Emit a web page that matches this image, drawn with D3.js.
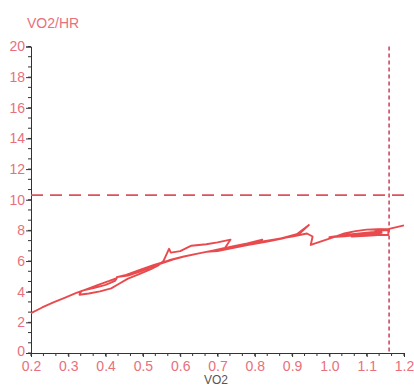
<!DOCTYPE html>
<html><head><meta charset="utf-8">
<script src="https://cdn.jsdelivr.net/npm/d3@7"></script>
<style>html,body{margin:0;padding:0;background:#fff;}svg{display:block;}</style>
</head><body><svg id="c" width="414" height="387"></svg>
<script>
const xTicks = [0.2,0.3,0.4,0.5,0.6,0.7,0.8,0.9,1.0,1.1,1.2];
const yTicks = [0,2,4,6,8,10,12,14,16,18,20];
const refVO2 = 1.16;
const refRatio = 10.3;
const vo2 = [0.200,0.230,0.260,0.290,0.320,0.350,0.380,0.410,0.430,
 0.425,0.400,0.370,0.335,0.330,0.355,0.385,0.415,0.435,0.460,0.490,0.520,0.540,0.555,0.570,
 0.575,0.600,0.630,0.670,0.700,0.735,0.720,
 0.690,0.650,0.610,0.570,0.530,0.490,0.455,0.430,0.460,0.490,0.520,0.550,0.580,0.620,0.660,0.700,0.740,0.780,0.820,0.790,0.750,0.710,0.670,0.700,0.740,0.780,0.830,0.870,0.910,0.945,
 0.920,0.880,0.850,0.800,0.760,0.800,0.850,0.900,0.940,0.955,
 0.950,0.980,1.010,1.040,1.070,1.100,1.130,1.160,1.120,1.080,1.040,1.000,1.040,1.080,1.110,1.140,1.100,1.060,1.100,1.130,1.158,1.158,1.110,1.160,1.200];
const ratio = [2.60,2.97,3.30,3.60,3.90,4.17,4.45,4.70,4.88,
 4.70,4.45,4.25,4.05,3.80,3.88,4.02,4.22,4.50,4.85,5.15,5.45,5.70,6.00,6.80,
 6.55,6.65,7.00,7.10,7.22,7.40,6.85,
 6.70,6.50,6.30,6.05,5.75,5.40,5.10,4.95,5.05,5.30,5.58,5.85,6.10,6.35,6.55,6.75,6.95,7.15,7.40,7.10,6.90,6.70,6.60,6.65,6.85,7.05,7.25,7.45,7.70,8.35,
 7.80,7.55,7.35,7.15,7.00,7.20,7.40,7.60,7.80,7.60,
 7.05,7.30,7.55,7.80,7.95,8.05,8.08,8.05,7.90,7.80,7.70,7.55,7.62,7.72,7.80,7.85,7.70,7.60,7.65,7.70,7.70,8.00,8.05,8.10,8.33];

const svg = d3.select("#c");
const x = d3.scaleLinear().domain([0.2,1.2]).range([31,404]);
const y = d3.scaleLinear().domain([0,20]).range([353,46.5]);
const labelColor = "#e8707c";
const axisColor = "#333";
const font = "'Liberation Sans',Arial,sans-serif";

// minor ticks
const xMinor = d3.range(0,31).map(i=>0.2+i/30);
const yMinor = d3.range(0,31).map(i=>i*2/3);
svg.append("g").selectAll("line").data(xMinor).join("line")
  .attr("x1",d=>x(d)).attr("x2",d=>x(d)).attr("y1",353).attr("y2",356)
  .attr("stroke",axisColor).attr("stroke-width",1);
svg.append("g").selectAll("line").data(yMinor).join("line")
  .attr("x1",28).attr("x2",31).attr("y1",d=>y(d)).attr("y2",d=>y(d))
  .attr("stroke",axisColor).attr("stroke-width",1);

const xAxis = svg.append("g").attr("transform","translate(0,353)")
  .call(d3.axisBottom(x).tickValues(xTicks).tickFormat(d3.format(".1f")).tickSize(4).tickPadding(4));
const yAxis = svg.append("g").attr("transform","translate(31,0)")
  .call(d3.axisLeft(y).tickValues(yTicks).tickSize(5).tickPadding(1));
[xAxis,yAxis].forEach(g=>{
  g.select(".domain").attr("stroke",axisColor);
  g.selectAll(".tick line").attr("stroke",axisColor);
  g.selectAll("text").attr("fill",labelColor).attr("font-family",font);
});
xAxis.selectAll("text").attr("font-size",14).attr("dy","0.68em");
yAxis.selectAll("text").attr("font-size",14);
yAxis.selectAll(".tick").filter(d=>d===0).select("text").attr("dy","0.2em");

svg.append("text").attr("x",216).attr("y",384).attr("text-anchor","middle").text("VO2")
  .attr("fill","#555").attr("font-size",12).attr("font-family",font);
svg.append("text").attr("x",27).attr("y",28).text("VO2/HR")
  .attr("fill",labelColor).attr("font-size",14).attr("font-family",font);

// reference lines
svg.append("line").attr("x1",x(0.2)).attr("x2",x(1.2)).attr("y1",y(refRatio)).attr("y2",y(refRatio))
  .attr("stroke","#e0505c").attr("stroke-width",1.6).attr("stroke-dasharray","12,7");
svg.append("line").attr("x1",x(refVO2)).attr("x2",x(refVO2)).attr("y1",y(20)).attr("y2",y(0))
  .attr("stroke","#c8304e").attr("stroke-width",1.4).attr("stroke-dasharray","4,3");

// data line
const pts = vo2.map((v,i)=>[v,ratio[i]]);
svg.append("path").datum(pts)
  .attr("d",d3.line().x(d=>x(d[0])).y(d=>y(d[1])))
  .attr("fill","none").attr("stroke","#e84a4e").attr("stroke-width",1.9).attr("stroke-linejoin","round");
</script></body></html>
